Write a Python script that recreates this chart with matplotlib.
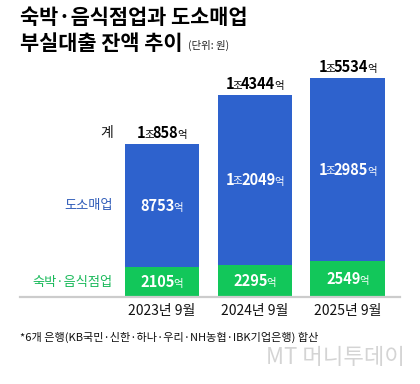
import matplotlib
matplotlib.use("Agg")
import matplotlib.pyplot as plt
from matplotlib.offsetbox import TextArea, HPacker, AnnotationBbox

plt.rcParams['font.family'] = ['Noto Sans CJK KR', 'DejaVu Sans']

# ---- data (unit: 억원) ----
periods = ["2023년 9월", "2024년 9월", "2025년 9월"]
lodging = [2105, 2295, 2549]        # 숙박·음식점업
wholesale = [8753, 12049, 12985]    # 도소매업
totals = [10858, 14344, 15534]      # 계
title1 = "숙박·음식점업과 도소매업"
title2 = "부실대출 잔액 추이"
unit_txt = "(단위: 원)"
footnote = "*6개 은행(KB국민·신한·하나·우리·NH농협·IBK기업은행) 합산"

BLUE = "#2E62CD"
GREEN = "#12C75A"

fig = plt.figure(figsize=(4.2, 3.84), dpi=100)
W, H = 420, 384
base_px = 297
ymax = 16000
px_per = 219 / 15534
ax_h = ymax * px_per
ax = fig.add_axes([20 / W, (H - base_px) / H, 380 / W, ax_h / H])

x = list(range(len(periods)))
ax.bar(x, lodging, width=0.8, color=GREEN, zorder=2)
ax.bar(x, wholesale, width=0.8, bottom=lodging, color=BLUE, zorder=2)
ax.set_xlim(-1.527, 2.565)
ax.set_ylim(0, ymax)
for s in ["top", "left", "right"]:
    ax.spines[s].set_visible(False)
ax.spines["bottom"].set_color("#cccccc")
ax.spines["bottom"].set_linewidth(1.6)
ax.set_yticks([])
ax.set_xticks(x, periods, fontsize=10, color="#111111")
ax.tick_params(axis="x", length=0, pad=5)


def parts_of(v):
    jo, eok = divmod(v, 10000)
    parts = []
    if jo:
        parts.append((str(jo), 10.5, "bold"))
        parts.append(("조", 7.5, "normal"))
    parts.append((str(eok), 10.5, "bold"))
    parts.append(("억", 7.5, "normal"))
    return parts


def rich(xv, yv, parts, color):
    boxes = [TextArea(t, textprops=dict(fontsize=s, fontweight=w, color=color))
             for t, s, w in parts]
    pk = HPacker(children=boxes, align="baseline", pad=0, sep=-1)
    ab = AnnotationBbox(pk, (xv, yv), xycoords="data", annotation_clip=False,
                        frameon=False, box_alignment=(0.5, 0.5), pad=0, zorder=5)
    ax.add_artist(ab)


gap = 11 / px_per
for i in x:
    g, b, t = lodging[i], wholesale[i], totals[i]
    rich(i, g / 2, parts_of(g), "white")
    rich(i, g + b / 2, parts_of(b), "white")
    rich(i, t + gap, parts_of(t), "black")

lx = -0.527
ax.text(lx, totals[0] + gap, "계", ha="right", va="center", fontsize=10, color="#111111")
ax.text(lx, lodging[0] + wholesale[0] / 2, "도소매업", ha="right", va="center",
        fontsize=9.5, color="#2E5BB8")
ax.text(lx, lodging[0] / 2, "숙박·음식점업", ha="right", va="center",
        fontsize=9.5, color="#19B95A")

fig.text(20 / W, 1 - 18 / H, title1, fontsize=15, fontweight="bold", va="center", ha="left")
fig.text(20 / W, 1 - 43 / H, title2, fontsize=15, fontweight="bold", va="center", ha="left")
fig.text(188 / W, 1 - 45 / H, unit_txt, fontsize=7.5, va="center", ha="left", color="#222222")

fig.text(20 / W, 1 - 337 / H, footnote, fontsize=8, va="center", ha="left", color="#111111")
fig.text(405 / W, 1 - 358 / H, "MT 머니투데이", fontsize=16, va="center", ha="right",
         color="#d4d4d4", style="italic")

fig.savefig("out.png", dpi=100)
